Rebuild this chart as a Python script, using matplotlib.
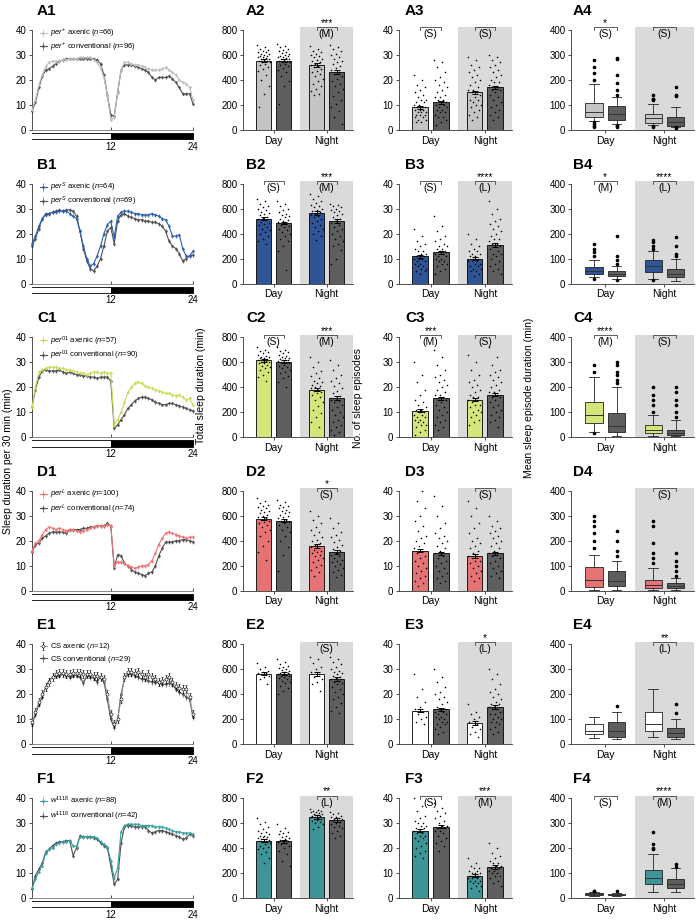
import numpy as np
import matplotlib
matplotlib.use("Agg")
import matplotlib.pyplot as plt

plt.rcParams['font.family'] = ['Liberation Sans', 'DejaVu Sans']
plt.rcParams['mathtext.fontset'] = 'custom'
plt.rcParams['mathtext.rm'] = 'Liberation Sans'
plt.rcParams['mathtext.it'] = 'Liberation Sans:italic'

# ---------------- data ----------------
hours = np.arange(0.5, 24.01, 0.5)
rows = ['A', 'B', 'C', 'D', 'E', 'F']

legend_labels = {
    'A': [r'$per^{+}$ axenic ($n$=66)', r'$per^{+}$ conventional ($n$=96)'],
    'B': [r'$per^{S}$ axenic ($n$=64)', r'$per^{S}$ conventional ($n$=69)'],
    'C': [r'$per^{01}$ axenic ($n$=57)', r'$per^{01}$ conventional ($n$=90)'],
    'D': [r'$per^{L}$ axenic ($n$=100)', r'$per^{L}$ conventional ($n$=74)'],
    'E': [r'CS axenic ($n$=12)', r'CS conventional ($n$=29)'],
    'F': [r'$w^{1118}$ axenic ($n$=88)', r'$w^{1118}$ conventional ($n$=42)'],
}

A1_axenic = [8, 12, 18, 22, 25.5, 27, 27.5, 27.5, 27.5, 28, 28, 28.5, 28.5, 28.5, 29, 29, 29, 29, 28, 27, 25, 21, 14, 4,
             5, 15, 24, 27, 27, 26.5, 26, 26, 25.5, 25, 24.5, 24, 24, 24, 24.5, 25, 24, 23, 22, 20, 19, 18.5, 17, 12]
A1_conv = [7.5, 11, 17, 21.5, 24, 24.5, 25.5, 26.5, 27.5, 28, 28.5, 28.5, 28.5, 28.5, 28.5, 28.5, 28.5, 28.5, 28.5, 28, 26.5, 22, 14, 6,
           5.5, 15, 24, 26, 26, 26, 25.5, 25, 24.5, 24, 23, 21, 20, 21, 21, 21, 21.5, 20.5, 19, 17, 14.5, 14.5, 14.5, 10.5]
B1_axenic = [16, 19, 23, 26, 27.5, 28, 28.5, 28.5, 29, 29, 29, 28, 27, 26, 21, 15, 10, 7, 8, 11, 15, 20, 23.5, 25,
             18.5, 27, 28.5, 29, 29, 28.5, 28, 28, 27.5, 27.5, 27.5, 28, 27.5, 27, 26, 25.5, 23, 19, 19, 19.5, 14, 11, 11, 13]
B1_conv = [15, 18, 22, 26, 28, 28, 28.5, 29, 29.5, 29, 29.5, 29.5, 29, 27, 21, 14, 9, 6, 5, 7, 10, 15, 21, 22.5,
           16, 25, 27.5, 28, 27, 26.5, 26, 25.5, 25.5, 25, 25, 24.5, 24.5, 24, 23, 21, 17, 15, 14, 12, 9, 10, 11, 11.5]
C1_axenic = [12, 20, 26, 27, 27.5, 28, 28, 28, 27.5, 27.5, 27, 27, 26.5, 26, 25.5, 25.5, 25, 25.5, 26, 26, 25.5, 26, 25.5, 25.5,
             5, 7, 10, 14, 18, 20, 21.5, 22, 21.5, 20.5, 20, 19.5, 19, 18.5, 18, 17.5, 17.5, 17, 16.5, 17, 16, 15, 15.5, 13]
C1_conv = [12, 19, 24, 26.5, 27, 26.5, 26.5, 26.5, 27, 26, 25.5, 26, 25.5, 25, 25, 24.5, 24.5, 24, 24, 23.5, 24, 24, 24, 22.5,
           3.5, 5, 7, 9, 11.5, 13, 14.5, 15.5, 16, 16, 15.5, 15, 14, 13.5, 13, 13, 13.5, 13.5, 13, 12.5, 12, 11.5, 11, 10.5]
D1_axenic = [16, 19, 20, 22.5, 24.5, 25.5, 25, 24.5, 25, 24.5, 24, 24.5, 24.5, 24, 23.5, 24, 24.5, 25, 25.5, 26, 26, 26, 26.5, 26,
             10, 11.5, 11.5, 11, 10, 9.5, 9, 9.5, 10, 10, 10.5, 12, 15, 18.5, 21, 23, 23.5, 23, 22.5, 22, 21.5, 21, 21.5, 21.5]
D1_conv = [15.5, 18.5, 19, 21, 22, 23, 23.5, 23.5, 23.5, 23.5, 23, 24.5, 24.5, 24.5, 24.5, 25, 25, 25.5, 25.5, 26, 26, 26, 27, 26,
           9, 14.5, 14, 11, 10, 8.5, 7.5, 7, 6.5, 6, 7, 7.5, 10, 14, 17, 19.5, 19.5, 19.5, 20, 20, 20.5, 20.5, 20, 19.5]
E1_axenic = [9, 13, 17, 20, 23, 25, 27, 28, 28.5, 28.5, 28, 28, 28.5, 28.5, 28.5, 28, 28, 28, 27.5, 27.5, 27, 26, 20, 12,
             8, 10, 18, 27, 29, 29, 28.5, 29, 28, 27, 28, 27, 26, 25, 25.5, 26, 27, 25, 23.5, 22.5, 22, 22, 19, 12]
E1_conv = [8, 12, 16, 19, 23, 25.5, 27, 27.5, 27.5, 28, 27.5, 27, 27.5, 27.5, 27, 24.5, 27.5, 27, 26.5, 25, 27, 25, 18, 10,
           7, 10, 20, 26.5, 28, 28, 27.5, 27, 26, 26, 25.5, 25, 25, 24.5, 24, 24, 24.5, 24, 22, 21, 20, 19, 18, 11]
F1_axenic = [4, 7.5, 10.5, 13, 18, 19.5, 20, 21.5, 22, 22.5, 22.5, 23, 21, 20.5, 24.5, 24.5, 24.5, 24.5, 24.5, 24, 22.5, 21.5, 20.5, 15,
             8, 12, 26.5, 29, 29.5, 29.5, 29.5, 29.5, 29, 29, 29, 29, 28.5, 28.5, 28.5, 28, 27.5, 27, 26.5, 26.5, 26, 26, 26, 25.5]
F1_conv = [3.5, 9, 11.5, 14, 18.5, 19.5, 21, 22, 22.5, 22.5, 23, 23, 17, 20, 25, 24.5, 24.5, 24.5, 24, 23.5, 22, 21, 20, 13,
           5.5, 7.5, 22, 28.5, 29, 29, 28.5, 28.5, 28.5, 28.5, 27, 26, 26.5, 27, 27, 26.5, 26, 25.5, 25, 24.5, 23.5, 24, 25.5, 25]
line_sem = {'A': [0.6, 0.7], 'B': [0.8, 0.8], 'C': [0.8, 0.7], 'D': [0.7, 0.8], 'E': [1.6, 1.1], 'F': [0.6, 0.8]}

# total sleep (min): means / sem, order day-axenic, day-conv, night-axenic, night-conv
A2_mean = [555, 555, 520, 465]
B2_mean = [520, 485, 565, 500]
C2_mean = [615, 605, 380, 310]
D2_mean = [575, 560, 360, 310]
E2_mean = [565, 565, 565, 525]
F2_mean = [460, 455, 650, 625]
sleep_sem = [12, 11, 14, 16]

A2_dots = [[680, 665, 650, 640, 630, 625, 620, 610, 605, 600, 595, 590, 585, 580, 575, 570, 565, 560, 555, 550, 545, 540, 530, 520, 505, 490, 470, 440, 400, 350, 290, 180],
           [690, 675, 660, 650, 640, 630, 620, 615, 605, 600, 595, 590, 585, 580, 575, 570, 565, 560, 555, 550, 545, 540, 530, 520, 510, 495, 480, 460, 430, 390, 350, 210],
           [670, 650, 635, 620, 610, 600, 590, 580, 570, 560, 550, 540, 530, 520, 510, 500, 490, 475, 460, 445, 430, 410, 390, 370, 350, 330, 310, 290, 280],
           [680, 660, 645, 630, 610, 600, 585, 570, 555, 540, 525, 510, 495, 480, 465, 450, 430, 410, 390, 370, 350, 330, 300, 270, 240, 210, 180, 150, 100, 50]]
B2_dots = [[680, 660, 640, 620, 610, 600, 590, 575, 565, 555, 545, 535, 525, 515, 505, 495, 485, 475, 465, 450, 440, 425, 410, 395, 380, 360, 340, 320],
           [660, 640, 620, 600, 590, 575, 560, 550, 540, 530, 520, 510, 500, 490, 480, 470, 460, 450, 440, 425, 410, 395, 380, 360, 340, 300, 260, 110],
           [720, 700, 680, 660, 645, 630, 620, 610, 600, 590, 580, 570, 560, 550, 540, 530, 515, 500, 485, 470, 455, 440, 420, 400, 380, 350],
           [640, 630, 620, 610, 600, 590, 580, 570, 560, 545, 530, 515, 500, 485, 470, 455, 440, 420, 400, 380, 360, 340, 320, 300, 270, 200, 160]]
C2_dots = [[720, 700, 690, 680, 670, 660, 650, 645, 640, 635, 630, 625, 620, 615, 610, 605, 600, 595, 590, 580, 570, 560, 550, 535, 520, 500, 480, 450],
           [720, 700, 690, 680, 670, 660, 650, 640, 635, 630, 625, 620, 615, 610, 605, 600, 590, 580, 570, 560, 550, 540, 525, 510, 490, 470, 440, 400],
           [640, 600, 560, 530, 510, 490, 470, 450, 440, 430, 420, 410, 400, 390, 380, 370, 360, 350, 340, 320, 300, 280, 250, 220, 190, 160, 120, 80],
           [620, 580, 540, 500, 470, 450, 430, 410, 390, 370, 350, 330, 310, 300, 290, 280, 260, 240, 220, 200, 180, 160, 140, 120, 100, 80, 60, 40, 20]]
D2_dots = [[740, 720, 700, 690, 680, 670, 660, 650, 640, 630, 620, 610, 600, 590, 580, 570, 560, 550, 540, 525, 510, 490, 470, 440, 400, 360, 310, 250],
           [730, 710, 690, 680, 670, 660, 650, 640, 630, 620, 610, 600, 590, 580, 570, 560, 550, 540, 525, 510, 490, 470, 440, 400, 350, 290, 160],
           [640, 600, 570, 540, 510, 490, 470, 450, 430, 410, 395, 380, 365, 350, 340, 330, 320, 310, 300, 290, 275, 260, 245, 230, 210, 190, 170, 150, 120],
           [580, 540, 500, 470, 450, 430, 410, 390, 370, 350, 335, 320, 305, 290, 275, 260, 250, 240, 230, 215, 200, 185, 170, 150, 130, 110]]
E2_dots = [[650, 620, 600, 590, 580, 575, 570, 560, 550, 540, 520, 480],
           [680, 660, 640, 630, 620, 610, 600, 595, 590, 580, 575, 570, 565, 560, 555, 550, 545, 540, 530, 520, 510, 500, 490, 470, 450, 430, 400],
           [700, 680, 650, 620, 600, 580, 560, 540, 520, 500, 480, 430],
           [700, 680, 660, 640, 620, 600, 590, 580, 570, 560, 550, 540, 530, 520, 510, 500, 490, 480, 460, 440, 420, 400, 380, 360, 330, 300, 270, 250]]
F2_dots = [[640, 610, 590, 570, 555, 540, 530, 520, 510, 500, 495, 490, 485, 480, 475, 470, 465, 460, 455, 450, 445, 440, 430, 420, 410, 400, 390, 370, 350, 320, 280],
           [590, 560, 540, 530, 520, 510, 500, 490, 480, 470, 465, 460, 455, 450, 440, 430, 420, 400, 380, 350, 300, 260],
           [710, 705, 700, 695, 690, 685, 680, 675, 670, 665, 660, 655, 650, 645, 640, 635, 630, 625, 620, 610, 600, 590, 570, 550],
           [690, 680, 670, 660, 650, 645, 640, 635, 630, 625, 620, 610, 600, 590, 580, 570, 560, 540, 520, 500, 480]]

# number of sleep episodes
A3_mean = [9, 11, 15, 17]
B3_mean = [11, 12.5, 10, 15.5]
C3_mean = [10.5, 15.5, 15, 17]
D3_mean = [16, 15, 14, 15]
E3_mean = [13.5, 14, 8.5, 15]
F3_mean = [27, 28.5, 9, 12.5]
episode_sem = [0.6, 0.6, 0.7, 0.7]

A3_dots = [[22, 20, 18, 17, 16, 15, 14, 13, 12, 12, 11, 11, 10, 10, 9, 9, 9, 8, 8, 8, 7, 7, 7, 6, 6, 6, 5, 5, 4, 4, 3, 3],
           [28, 27, 25, 23, 21, 20, 19, 18, 17, 16, 15, 14, 13, 13, 12, 12, 11, 11, 10, 10, 9, 9, 8, 8, 7, 7, 6, 5, 5, 4, 3, 2],
           [29, 28, 26, 25, 24, 23, 22, 21, 20, 19, 18, 17, 16, 16, 15, 15, 14, 13, 12, 12, 11, 10, 10, 9, 8, 7, 6, 5, 4],
           [30, 29, 28, 27, 26, 25, 24, 23, 22, 21, 20, 19, 19, 18, 17, 16, 16, 15, 14, 13, 12, 11, 10, 9, 8, 7, 6, 5, 4]]
B3_dots = [[22, 19, 17, 16, 15, 14, 13, 13, 12, 12, 11, 11, 10, 10, 10, 9, 9, 8, 8, 7, 7, 6, 6, 5, 5, 4],
           [27, 23, 21, 19, 18, 17, 16, 15, 15, 14, 14, 13, 13, 12, 12, 11, 11, 10, 10, 9, 9, 8, 8, 7, 6, 5, 4],
           [20, 18, 16, 15, 14, 13, 13, 12, 12, 11, 11, 10, 10, 9, 9, 9, 8, 8, 7, 7, 6, 6, 5, 5, 4, 3],
           [33, 30, 28, 26, 25, 24, 23, 22, 21, 20, 19, 18, 18, 17, 16, 16, 15, 15, 14, 13, 12, 12, 11, 10, 9, 8, 7, 6, 5, 4]]
C3_dots = [[30, 25, 22, 19, 17, 15, 14, 13, 12, 11, 11, 10, 10, 9, 9, 8, 8, 7, 7, 6, 6, 5, 5, 4, 3, 2, 1],
           [35, 32, 29, 27, 25, 24, 23, 22, 21, 20, 19, 18, 17, 17, 16, 15, 15, 14, 13, 12, 11, 10, 9, 8, 7, 6, 5, 4, 3],
           [33, 30, 27, 25, 23, 22, 21, 20, 19, 18, 17, 16, 16, 15, 15, 14, 13, 13, 12, 11, 10, 10, 9, 8, 7, 6, 5],
           [36, 32, 29, 27, 26, 25, 24, 23, 22, 21, 20, 19, 18, 18, 17, 16, 16, 15, 14, 13, 12, 11, 10, 9, 8, 7, 6, 4]]
D3_dots = [[42, 40, 36, 33, 30, 28, 26, 24, 22, 21, 20, 19, 18, 17, 16, 15, 14, 13, 12, 11, 10, 9, 8, 7, 6, 5, 4, 3, 2],
           [38, 34, 30, 27, 25, 23, 22, 21, 20, 19, 18, 17, 16, 15, 14, 13, 12, 11, 10, 9, 8, 7, 6, 5, 4, 3],
           [36, 33, 30, 27, 25, 23, 21, 20, 19, 18, 17, 16, 15, 14, 14, 13, 12, 12, 11, 10, 9, 8, 7, 6, 5, 4],
           [30, 28, 26, 25, 24, 23, 22, 21, 20, 19, 18, 17, 16, 15, 15, 14, 13, 12, 11, 10, 9, 8, 7, 6, 5]]
E3_dots = [[28, 22, 19, 17, 15, 14, 13, 12, 11, 10, 9, 8],
           [30, 27, 25, 23, 21, 20, 19, 18, 17, 16, 15, 14, 14, 13, 13, 12, 12, 11, 11, 10, 10, 9, 9, 8, 8, 7, 6, 5, 4],
           [16, 13, 12, 11, 10, 9, 8, 7, 6, 5, 4, 3],
           [30, 28, 26, 24, 22, 21, 20, 19, 18, 17, 16, 16, 15, 15, 14, 14, 13, 12, 12, 11, 10, 10, 9, 9, 8, 7, 6, 5, 4]]
F3_dots = [[40, 37, 35, 33, 32, 31, 30, 30, 29, 29, 28, 28, 27, 27, 26, 26, 25, 25, 24, 24, 23, 22, 21, 20, 19, 18, 17, 16],
           [38, 36, 35, 34, 33, 32, 31, 30, 29, 29, 28, 28, 27, 27, 26, 25, 24, 23, 22, 21, 19],
           [16, 14, 13, 12, 12, 11, 11, 10, 10, 10, 9, 9, 9, 8, 8, 8, 7, 7, 7, 6, 6, 5, 5, 4, 3],
           [22, 20, 18, 17, 16, 15, 14, 14, 13, 13, 12, 12, 11, 11, 10, 10, 9, 9, 8, 7, 6, 5]]

# mean sleep episode duration boxes: (whislo, q1, median, q3, whishi, fliers)
A4_box = [(35, 50, 73, 108, 184, [200, 229, 252, 281, 30, 24, 17, 12]),
          (25, 39, 63, 95, 132, [141, 158, 187, 220, 285, 289, 20, 17, 10]),
          (18, 26, 46, 63, 102, [119, 122, 124, 141, 14, 12]),
          (12, 17, 30, 50, 93, [135, 141, 171, 10, 8])]
B4_box = [(25, 40, 52, 68, 95, [110, 125, 140, 160, 20]),
          (20, 30, 40, 50, 70, [80, 95, 110, 190, 15]),
          (20, 45, 70, 95, 130, [140, 150, 165, 175, 15]),
          (10, 25, 40, 60, 100, [110, 120, 150, 185])]
C4_box = [(20, 55, 90, 140, 240, [260, 290, 15]),
          (5, 20, 45, 95, 200, [215, 230, 250, 260, 290, 300]),
          (5, 15, 30, 50, 90, [100, 130, 150, 170, 200]),
          (3, 8, 15, 30, 70, [80, 100, 130, 150, 180, 200])]
D4_box = [(3, 15, 45, 95, 145, [170, 200, 230, 260, 280, 300]),
          (5, 18, 40, 80, 120, [140, 160, 200, 240]),
          (3, 12, 25, 45, 90, [110, 130, 150, 190, 260, 280]),
          (3, 10, 18, 30, 50, [60, 80, 100, 120, 150])]
E4_box = [(25, 40, 55, 80, 110, []),
          (20, 30, 55, 90, 130, [155]),
          (30, 55, 80, 130, 220, []),
          (20, 30, 45, 65, 100, [125, 160])]
F4_box = [(10, 13, 16, 19, 25, [28, 30]),
          (9, 12, 14, 17, 22, [28]),
          (25, 58, 80, 112, 177, [198, 200, 215, 265]),
          (25, 40, 58, 75, 122, [125, 135])]

# significance notes per column: (day stars, day size, night stars, night size)
notes2 = {'A': ('', '', '***', '(M)'), 'B': ('', '(S)', '***', '(M)'), 'C': ('', '(S)', '***', '(M)'),
          'D': ('', '', '*', '(S)'), 'E': ('', '', '', '(S)'), 'F': ('', '', '**', '(L)')}
notes3 = {'A': ('', '(S)', '', '(S)'), 'B': ('', '(S)', '****', '(L)'), 'C': ('***', '(M)', '', '(S)'),
          'D': ('', '', '', '(S)'), 'E': ('', '', '*', '(L)'), 'F': ('', '(S)', '***', '(M)')}
notes4 = {'A': ('*', '(S)', '', '(S)'), 'B': ('*', '(M)', '****', '(L)'), 'C': ('****', '(M)', '', '(S)'),
          'D': ('', '', '', '(S)'), 'E': ('', '', '**', '(L)'), 'F': ('', '(S)', '****', '(M)')}

axenic_color = {'A': '#c4c4c4', 'B': '#2f5597', 'C': '#d6e57a', 'D': '#e57373', 'E': '#ffffff', 'F': '#3e9597'}
line_color = {'A': '#bdbdbd', 'B': '#2d5fb0', 'C': '#c9dc55', 'D': '#f07272', 'E': '#9a9a9a', 'F': '#3aa0a2'}
CONV = '#5e5e5e'
CONV_LINE = '#505050'
GRAY = '#dadada'

line_data = {'A': (A1_axenic, A1_conv), 'B': (B1_axenic, B1_conv), 'C': (C1_axenic, C1_conv),
             'D': (D1_axenic, D1_conv), 'E': (E1_axenic, E1_conv), 'F': (F1_axenic, F1_conv)}
sleep_data = {'A': (A2_mean, A2_dots), 'B': (B2_mean, B2_dots), 'C': (C2_mean, C2_dots),
              'D': (D2_mean, D2_dots), 'E': (E2_mean, E2_dots), 'F': (F2_mean, F2_dots)}
episode_data = {'A': (A3_mean, A3_dots), 'B': (B3_mean, B3_dots), 'C': (C3_mean, C3_dots),
                'D': (D3_mean, D3_dots), 'E': (E3_mean, E3_dots), 'F': (F3_mean, F3_dots)}
box_data = {'A': A4_box, 'B': B4_box, 'C': C4_box, 'D': D4_box, 'E': E4_box, 'F': F4_box}

# ---------------- layout ----------------
W, H = 699, 922
fig = plt.figure(figsize=(W / 100, H / 100), dpi=100)

OFF = 0.19
BW = 0.29
XPOS = [-OFF, OFF, 1 - OFF, 1 + OFF]


def add_ax(left, top, right, bottom):
    return fig.add_axes([left / W, 1 - bottom / H, (right - left) / W, (bottom - top) / H])


def style(ax):
    for s in ['top', 'right']:
        ax.spines[s].set_visible(False)
    for s in ['left', 'bottom']:
        ax.spines[s].set_linewidth(0.6)
        ax.spines[s].set_color('#333333')
    ax.tick_params(labelsize=7, width=0.6, length=2.5, pad=1.5, color='#333333')


def bracket(ax, ymax, center, stars, size):
    if not size:
        return
    x0, x1 = center - OFF, center + OFF
    y = ymax * 1.025
    h = ymax * 0.03
    ax.plot([x0, x0, x1, x1], [y - h, y, y, y - h], color='#444444', lw=0.6, clip_on=False)
    if stars:
        ax.text(center, y - ymax * 0.01, stars, ha='center', va='bottom', fontsize=7.5, clip_on=False)
    ax.text(center, y - ymax * 0.02, size, ha='center', va='top', fontsize=7.5)


def group_axes(ax, ymax, step):
    ax.axvspan(0.5, 1.6, color=GRAY, lw=0, zorder=0)
    ax.set_xlim(-0.58, 1.5)
    ax.set_ylim(0, ymax * 1.025)
    ax.set_yticks(np.arange(0, ymax + 1, step))
    ax.spines['left'].set_bounds(0, ymax)
    ax.set_xticks([0, 1])
    ax.set_xticklabels(['Day', 'Night'], fontsize=7.5)


def bar_panel(ax, key, means, dots, sem, ymax, step, notes):
    style(ax)
    group_axes(ax, ymax, step)
    cols = [axenic_color[key], CONV, axenic_color[key], CONV]
    ax.bar(XPOS, means, width=BW, color=cols, edgecolor='k', lw=0.6, zorder=1)
    for x, vals in zip(XPOS, dots):
        jit = np.array([((k * 0.618034) % 1 - 0.5) * 0.24 for k in range(len(vals))])
        ax.scatter(x + jit, vals, s=1.3, c='k', lw=0, zorder=3)
    ax.errorbar(XPOS, means, yerr=sem, fmt='none', ecolor='k', elinewidth=0.7,
                capsize=2.5, capthick=0.7, zorder=4)
    bracket(ax, ymax, 0, notes[0], notes[1])
    bracket(ax, ymax, 1, notes[2], notes[3])


def box_panel(ax, key, boxes, notes):
    style(ax)
    group_axes(ax, 400, 100)
    stats = []
    for b in boxes:
        stats.append(dict(whislo=b[0], q1=b[1], med=b[2], q3=b[3], whishi=b[4], fliers=b[5]))
    bp = ax.bxp(stats, positions=XPOS, widths=BW, patch_artist=True, showfliers=True,
                capwidths=BW * 0.55, manage_ticks=False,
                boxprops=dict(lw=0.6, edgecolor='#222222'),
                whiskerprops=dict(lw=0.6, color='#222222'),
                capprops=dict(lw=0.6, color='#222222'),
                medianprops=dict(lw=0.7, color='#333333'),
                flierprops=dict(marker='o', ms=1.6, mfc='k', mec='k', lw=0))
    cols = [axenic_color[key], CONV, axenic_color[key], CONV]
    for patch, c in zip(bp['boxes'], cols):
        patch.set_facecolor(c)
        patch.set_zorder(2)
    ax.set_xticks([0, 1])
    ax.set_xticklabels(['Day', 'Night'], fontsize=7.5)
    bracket(ax, 400, 0, notes[0], notes[1])
    bracket(ax, 400, 1, notes[2], notes[3])


def line_panel(ax, key, bottom):
    style(ax)
    axv, conv = line_data[key]
    s_ax, s_cv = line_sem[key]
    c = line_color[key]
    if key == 'E':
        h1 = ax.errorbar(hours, axv, yerr=s_ax, color=c, lw=0.7, marker='o', ms=2.2, mfc='white',
                         mec='k', mew=0.4, elinewidth=0.5, ecolor='k', capsize=1, clip_on=False, zorder=3)
    else:
        h1 = ax.errorbar(hours, axv, yerr=s_ax, color=c, lw=0.8, marker='o', ms=1.8, mew=0,
                         elinewidth=0.5, capsize=1, clip_on=False, zorder=3)
    h2 = ax.errorbar(hours, conv, yerr=s_cv, color=CONV_LINE, lw=0.8, marker='o', ms=1.8, mew=0,
                     elinewidth=0.5, capsize=1, clip_on=False, zorder=2)
    ax.set_xlim(0.5, 24)
    ax.set_ylim(0, 40)
    ax.set_yticks([0, 10, 20, 30, 40])
    ax.set_xticks([12, 24])
    ax.set_xticklabels([])
    ax.tick_params(axis='x', length=2, direction='in')
    ax.spines['bottom'].set_color('#777777')
    ax.legend([h1, h2], legend_labels[key], loc='upper left', bbox_to_anchor=(0.03, 1.06),
              frameon=False, fontsize=5.5, handlelength=0.9, handletextpad=0.4,
              labelspacing=0.15, borderaxespad=0)
    # light/dark bar
    ld = add_ax(32, bottom + 3, 193, bottom + 9.5)
    ld.broken_barh([(0, 12)], (0, 1), facecolor='white', edgecolor='k', lw=0.6)
    ld.broken_barh([(12, 12)], (0, 1), facecolor='k', edgecolor='k', lw=0.6)
    ld.set_xlim(0.5, 24)
    ld.set_ylim(0, 1)
    ld.set_yticks([])
    ld.set_xticks([12, 24])
    ld.set_xticklabels(['12', '24'], fontsize=7)
    ld.tick_params(axis='x', length=0, pad=1.5)
    for s in ld.spines.values():
        s.set_visible(False)


cols_px = [(32, 193), (243, 353), (399, 512), (571, 694)]
for i, key in enumerate(rows):
    top = 30 + 153.6 * i
    bottom = top + 100
    ax1 = add_ax(cols_px[0][0], top, cols_px[0][1], bottom)
    line_panel(ax1, key, bottom)
    ax2 = add_ax(cols_px[1][0], top - 2.5, cols_px[1][1], bottom)
    m, d = sleep_data[key]
    bar_panel(ax2, key, m, d, sleep_sem, 800, 200, notes2[key])
    ax3 = add_ax(cols_px[2][0], top - 2.5, cols_px[2][1], bottom)
    m, d = episode_data[key]
    bar_panel(ax3, key, m, d, episode_sem, 40, 10, notes3[key])
    ax4 = add_ax(cols_px[3][0], top - 2.5, cols_px[3][1], bottom)
    box_panel(ax4, key, box_data[key], notes4[key])
    for j, x in enumerate([37, 246, 405, 573]):
        fig.text(x / W, 1 - (top - 19) / H, f'{key}{j + 1}', fontsize=11, fontweight='bold',
                 ha='left', va='center')

fig.text(8 / W, 1 - 461 / H, 'Sleep duration per 30 min (min)', rotation=90, fontsize=7.5,
         ha='center', va='center')
fig.text(201 / W, 1 - 386 / H, 'Total sleep duration (min)', rotation=90, fontsize=7.5,
         ha='center', va='center')
fig.text(358 / W, 1 - 398 / H, 'No. of sleep episodes', rotation=90, fontsize=7.5,
         ha='center', va='center')
fig.text(529 / W, 1 - 398 / H, 'Mean sleep episode duration (min)', rotation=90, fontsize=7.5,
         ha='center', va='center')

fig.savefig('out.png', dpi=100)
plt.close(fig)
